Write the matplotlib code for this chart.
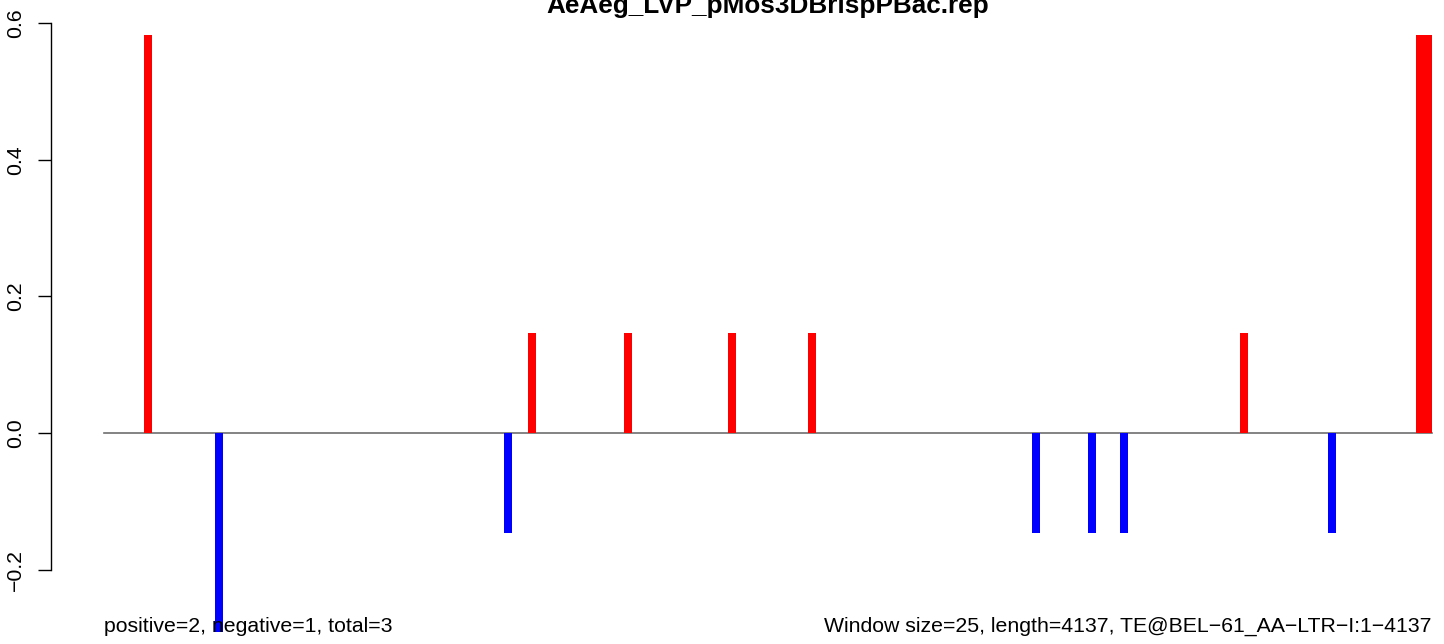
import numpy as np
import matplotlib
matplotlib.use("Agg")
import matplotlib.pyplot as plt
import matplotlib.transforms as mtransforms

plt.rcParams['font.family'] = ['Liberation Sans', 'DejaVu Sans']

# data
pos_x = [138, 1334, 1633, 1957, 2206, 3551, 4100, 4125]
pos_y = [0.583, 0.146, 0.146, 0.146, 0.146, 0.146, 0.583, 0.583]
neg_x = [359, 1259, 2904, 3078, 3178, 3826]
neg_y = [-0.291, -0.146, -0.146, -0.146, -0.146, -0.146]
seq_len = 4137
win = 25
title = "AeAeg_LVP_pMos3DBrispPBac.rep"
left_note = "positive=2, negative=1, total=3"
right_note = "Window size=25, length=4137, TE@BEL\u221261_AA\u2212LTR\u2212I:1\u22124137"
yticks = [-0.2, 0.0, 0.2, 0.4, 0.6]

W, H = 1444, 644
fig = plt.figure(figsize=(W / 100, H / 100), dpi=100)

# R style padding of 4% on x
pad = (seq_len - 1) * 0.04
xlo, xhi = 1 - pad, seq_len + pad
ylo, yhi = -0.33, 0.62
# pixel layout
px_left, px_right = 51, 1485.1
py_zero, py_unit = 433, 683
py_top = py_zero - yhi * py_unit
py_bot = py_zero - ylo * py_unit
ax = fig.add_axes([px_left / W, (H - py_bot) / H, (px_right - px_left) / W, (py_bot - py_top) / H])
ax.set_xlim(xlo, xhi)
ax.set_ylim(ylo, yhi)

ax.plot([1, seq_len], [0, 0], color='#6e6e6e', lw=1.2, zorder=1)
ax.bar(pos_x, pos_y, width=win, color='#ff0000', linewidth=0, zorder=2)
ax.bar(neg_x, neg_y, width=win, color='#0000ff', linewidth=0, zorder=2)

for s in ['top', 'right', 'bottom']:
    ax.spines[s].set_visible(False)
ax.spines['left'].set_bounds(-0.2, 0.6)
ax.spines['left'].set_linewidth(1.0)
ax.set_xticks([])
ax.set_yticks(yticks)
ax.set_yticklabels([f"{v:.1f}".replace("-", "\u2212") for v in yticks], rotation=90, va='center')
ax.tick_params(axis='y', length=9.3, width=1.0, pad=9.5, labelsize=15.3)

trans = mtransforms.blended_transform_factory(ax.transData, fig.transFigure)
ax.text(1, (H - 632) / H, left_note, transform=trans, ha='left', va='baseline', fontsize=15.3, clip_on=False)
ax.text(seq_len, (H - 632) / H, right_note, transform=trans, ha='right', va='baseline', fontsize=15.3, clip_on=False)

fig.text(768 / W, (H - 13) / H, title, ha='center', va='baseline', fontsize=18.8, fontweight='bold')

fig.savefig("out.png", dpi=100)
